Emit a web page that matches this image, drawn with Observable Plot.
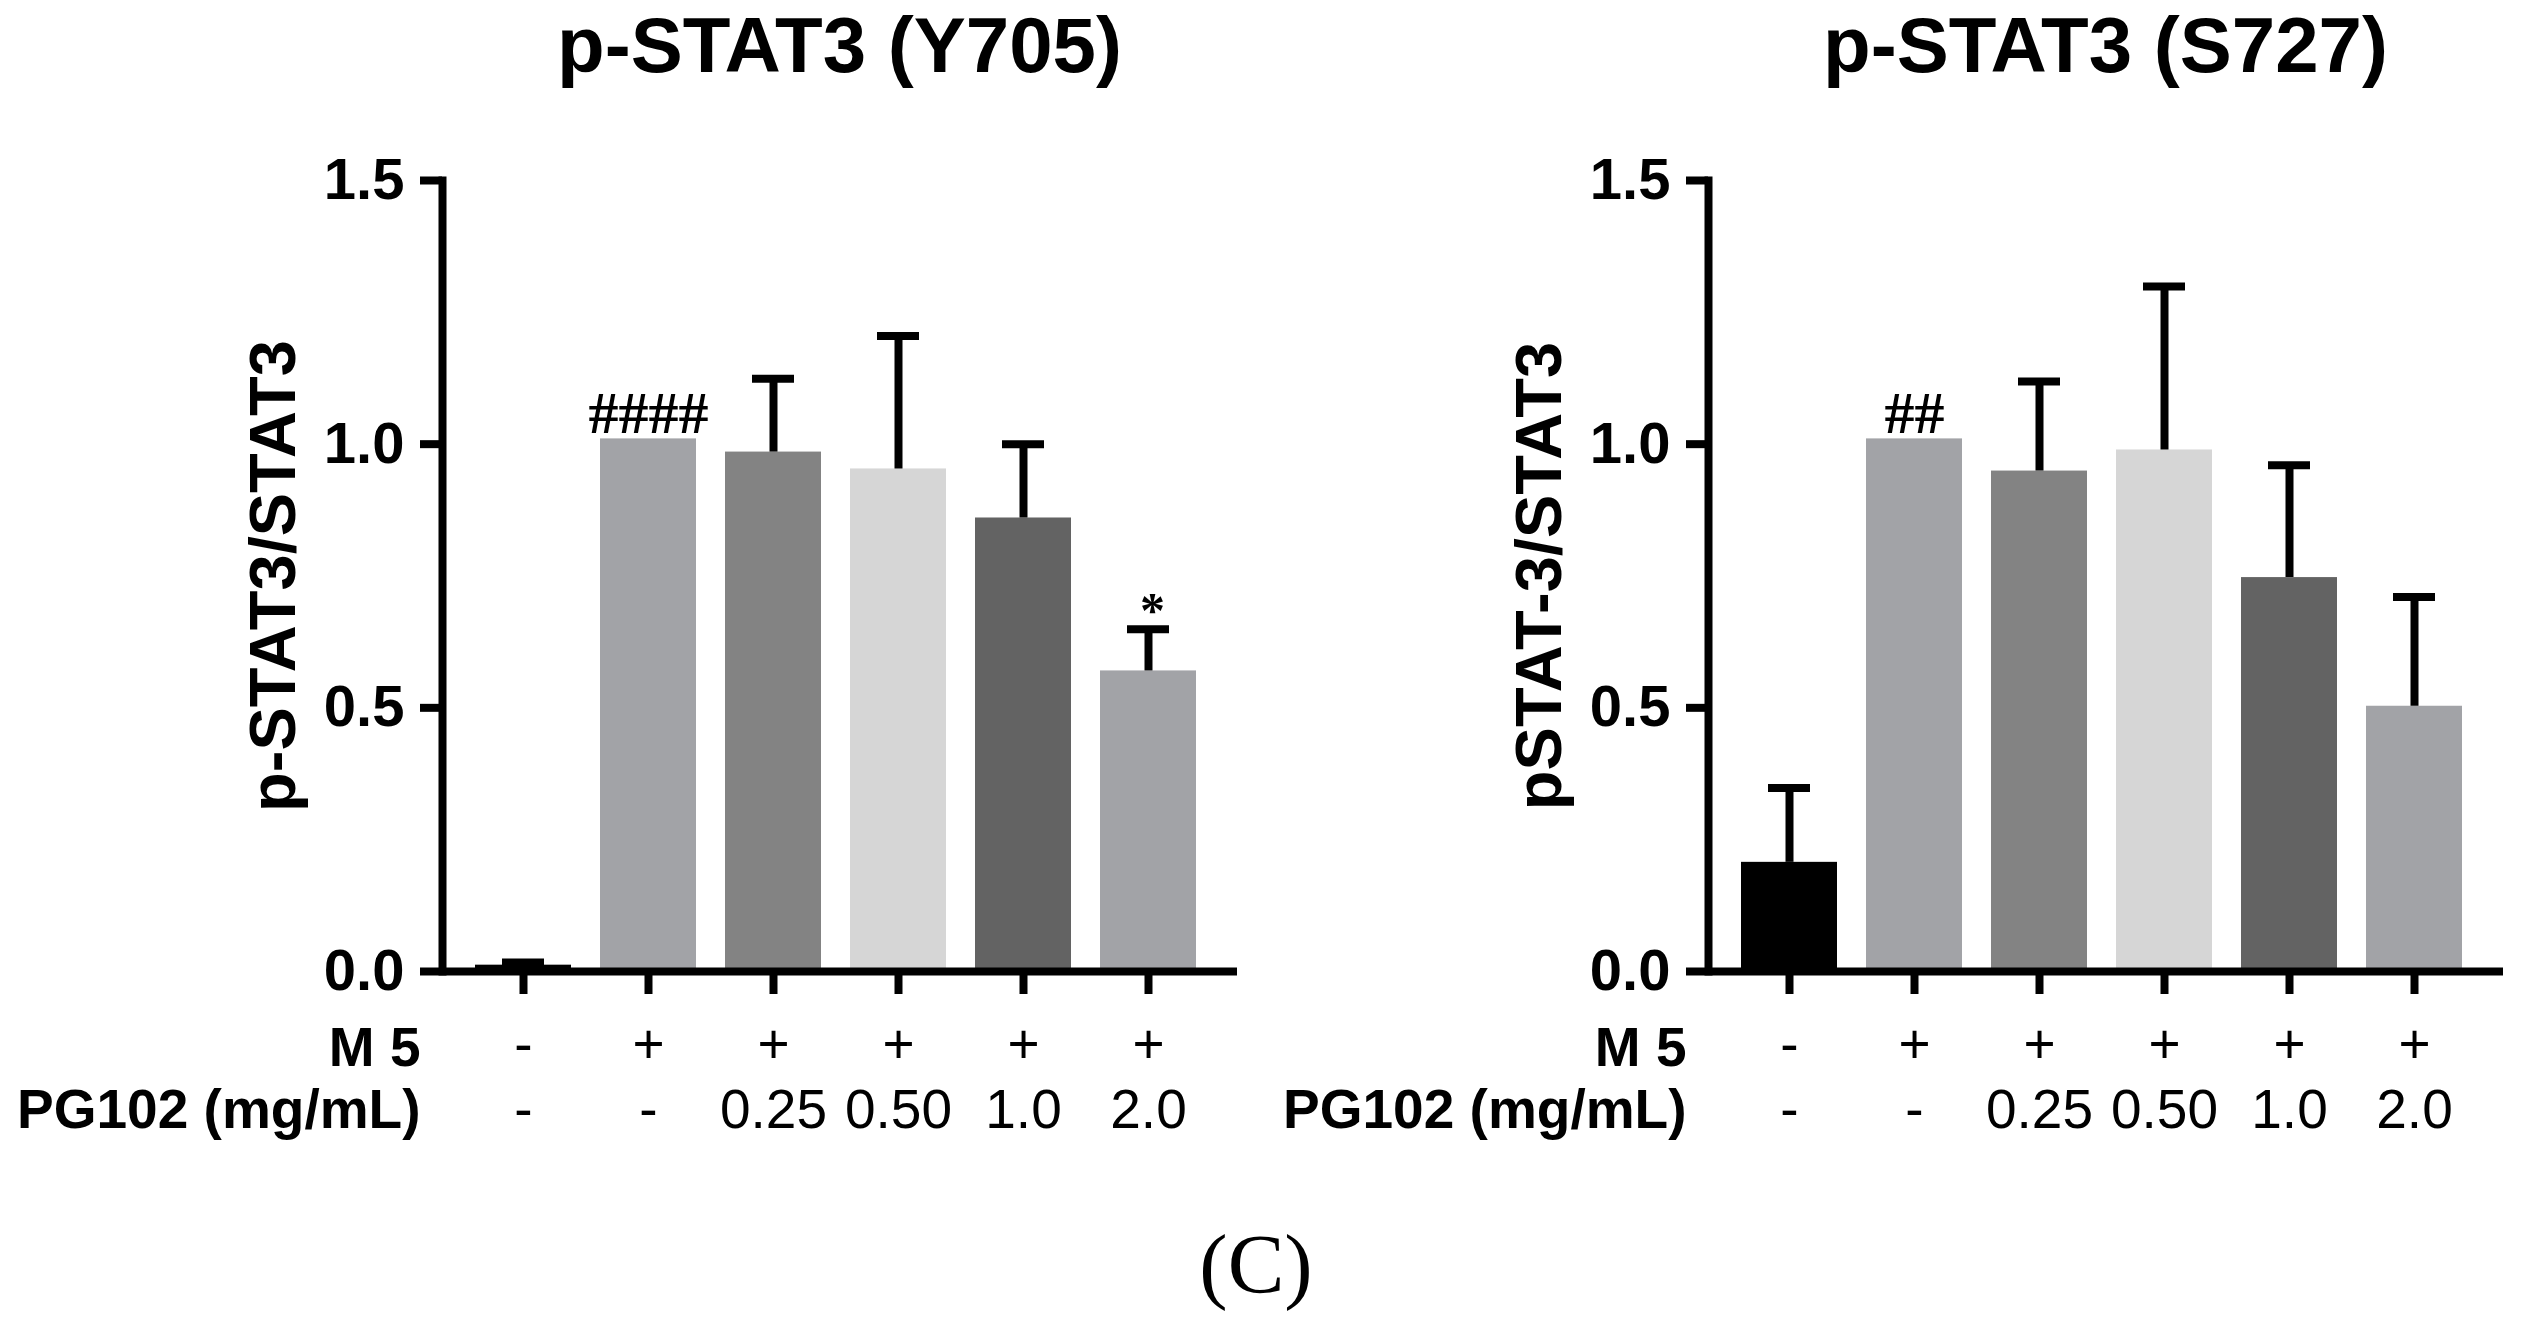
<!DOCTYPE html>
<html>
<head>
<meta charset="utf-8">
<script src="https://cdn.jsdelivr.net/npm/d3@7"></script>
<script src="https://cdn.jsdelivr.net/npm/@observablehq/plot@0.6"></script>
<style>
  body { margin: 0; background: #fff; }
  #page { position: relative; width: 2532px; height: 1328px; background: #fff; overflow: hidden; }
  .panel { position: absolute; top: 0; width: 1266px; }
  .title { margin-left: 442px; width: 795px; height: 110px; line-height: 104px; text-align: center;
           font: bold 78px "Liberation Sans", Arial, sans-serif; color: #000; white-space: nowrap; }
  .caption { position: absolute; left: 0; width: 2512px; top: 1222px; text-align: center;
             font: 85px "Liberation Serif", "Times New Roman", serif; line-height: 85px; color: #000; }
  svg { display: block; }
</style>
</head>
<body>
<div id="page"></div>
<script>
// ---- data ----
const groups = ["Control", "M5", "M5+PG102 0.25", "M5+PG102 0.50", "M5+PG102 1.0", "M5+PG102 2.0"];
const m5Row = ["-", "+", "+", "+", "+", "+"];
const pg102Row = ["-", "-", "0.25", "0.50", "1.0", "2.0"];
const rowLabels = ["M 5", "PG102 (mg/mL)"];
const yTicks = [0, 0.5, 1.0, 1.5];
const titles = ["p-STAT3 (Y705)", "p-STAT3 (S727)"];
const yLabels = ["p-STAT3/STAT3", "pSTAT-3/STAT3"];
const caption = "(C)";

const y705Mean = [0.012, 1.010, 0.985, 0.953, 0.860, 0.570];
const y705Err  = [0.005, 0,     0.139, 0.252, 0.140, 0.079];
const y705Sig  = ["", "####", "", "", "", "*"];

const s727Mean = [0.207, 1.010, 0.949, 0.989, 0.747, 0.503];
const s727Err  = [0.141, 0,     0.170, 0.310, 0.213, 0.207];
const s727Sig  = ["", "##", "", "", "", ""];

// ---- styles ----
const barColors = ["#000000", "#a2a3a7", "#838383", "#d6d6d6", "#636363", "#a2a3a7"];
const sans = '"Liberation Sans", Arial, sans-serif';
const serif = '"Liberation Serif", "Times New Roman", serif';

function drawPanel(mean, err, sig, yLabel) {
  const data = groups.map((g, i) => ({
    group: g, mean: mean[i], err: err[i], top: mean[i] + err[i],
    sig: sig[i], m5: m5Row[i], pg: pg102Row[i]
  }));
  const withErr = data.filter(d => d.err > 0);
  return Plot.plot({
    width: 1266,
    height: 1040,
    marginLeft: 442,
    marginRight: 29,
    marginTop: 70,
    marginBottom: 179,
    style: { fontFamily: sans, color: "#000", background: "#fff", overflow: "visible" },
    x: { domain: groups, paddingInner: 0.232, paddingOuter: 0.296, align: 0.446 },
    y: { domain: [0, 1.5] },
    color: { domain: groups, range: barColors },
    marks: [
      Plot.barY(data, { x: "group", y: "mean", fill: "group" }),
      Plot.ruleX(withErr, { x: "group", y1: "mean", y2: "top", stroke: "#000", strokeWidth: 8 }),
      Plot.tickY(withErr, { x: "group", y: "top", stroke: "#000", strokeWidth: 8, insetLeft: 27, insetRight: 27 }),
      Plot.text(data.filter(d => d.sig.startsWith("#")), {
        x: "group", y: "top", text: "sig", lineAnchor: "bottom", dy: -6,
        fontSize: 60, fontWeight: "bold", fontFamily: serif, fill: "#000"
      }),
      Plot.text(data.filter(d => d.sig === "*"), {
        x: "group", y: "top", text: "sig", lineAnchor: "bottom", dy: -2, dx: 4,
        fontSize: 50, fontWeight: "bold", fontFamily: serif, fill: "#000"
      }),
      Plot.ruleY([0], { stroke: "#000", strokeWidth: 8 }),
      Plot.frame({ anchor: "left", stroke: "#000", strokeWidth: 8, strokeLinecap: "square" }),
      Plot.axisY({
        ticks: yTicks, tickFormat: d3.format(".1f"), tickSize: 22, tickPadding: 16,
        stroke: "#000", strokeWidth: 8, fontSize: 58, fontWeight: "bold", label: null
      }),
      Plot.axisX({ tickSize: 23, stroke: "#000", strokeWidth: 8, tickFormat: () => "", label: null }),
      Plot.text([yLabel], {
        frameAnchor: "left", textAnchor: "middle", rotate: -90, dx: -168,
        fontSize: 65, fontWeight: "bold", fill: "#000"
      }),
      Plot.text(data, {
        x: "group", text: "m5", frameAnchor: "bottom", dy: 91, lineAnchor: "bottom",
        fontSize: 55, fontWeight: "normal", fill: "#000"
      }),
      Plot.text(data, {
        x: "group", text: "pg", frameAnchor: "bottom", dy: 156, lineAnchor: "bottom",
        fontSize: 55, fontWeight: "normal", fill: "#000"
      }),
      Plot.text([rowLabels[0]], {
        frameAnchor: "bottom-left", textAnchor: "end", dx: -22, dy: 94, lineAnchor: "bottom",
        fontSize: 55, fontWeight: "bold", fill: "#000"
      }),
      Plot.text([rowLabels[1]], {
        frameAnchor: "bottom-left", textAnchor: "end", dx: -22, dy: 156, lineAnchor: "bottom",
        fontSize: 55, fontWeight: "bold", fill: "#000"
      })
    ]
  });
}

const page = document.getElementById("page");
const panels = [
  [y705Mean, y705Err, y705Sig],
  [s727Mean, s727Err, s727Sig]
];
panels.forEach(([m, e, s], i) => {
  const div = document.createElement("div");
  div.className = "panel";
  div.style.left = (i * 1266) + "px";
  const t = document.createElement("div");
  t.className = "title";
  t.textContent = titles[i];
  div.appendChild(t);
  div.appendChild(drawPanel(m, e, s, yLabels[i]));
  page.appendChild(div);
});
const cap = document.createElement("div");
cap.className = "caption";
cap.textContent = caption;
page.appendChild(cap);
</script>
</body>
</html>
